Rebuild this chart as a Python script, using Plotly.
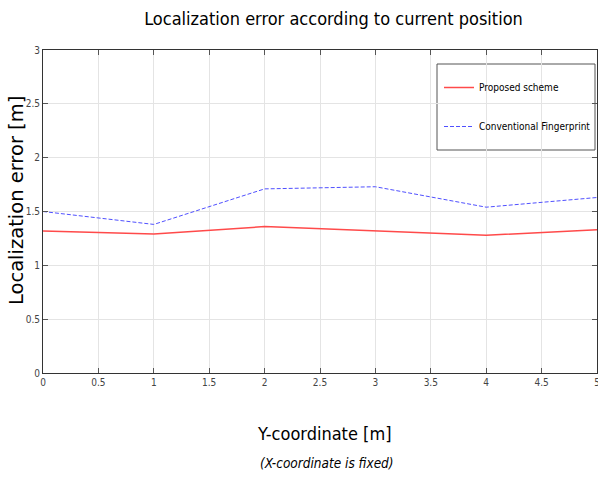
import plotly.graph_objects as go

x_vals = [0, 1, 2, 3, 4, 5]
proposed = [1.32, 1.29, 1.36, 1.32, 1.28, 1.33]
conventional = [1.50, 1.38, 1.71, 1.73, 1.54, 1.63]
x_ticks = [0, 0.5, 1, 1.5, 2, 2.5, 3, 3.5, 4, 4.5, 5]
x_tick_labels = ["0", "0.5", "1", "1.5", "2", "2.5", "3", "3.5", "4", "4.5", "5"]
y_ticks = [0, 0.5, 1, 1.5, 2, 2.5, 3]
y_tick_labels = ["0", "0.5", "1", "1.5", "2", "2.5", "3"]

NARROW = "DejaVu Sans Condensed, Liberation Sans Narrow, sans-serif"

W, H = 598, 479
L, R, T, B = 43, 1, 50, 106
PW, PH = W - L - R, H - T - B


def px_x(p):
    return (p - L) / PW


def px_y(p):
    return (H - B - p) / PH


fig = go.Figure()
fig.add_trace(go.Scatter(x=x_vals, y=proposed, mode="lines", name="Proposed scheme",
                         legendgroup="a",
                         line=dict(color="#ff4a4a", width=1.5)))
fig.add_trace(go.Scatter(x=x_vals, y=conventional, mode="lines", name="Conventional Fingerprint",
                         legendgroup="b",
                         line=dict(color="#5050ff", width=1, dash="4px,2px")))

axis_common = dict(showgrid=True, gridcolor="#e4e4e4", gridwidth=1, showline=True,
                   linecolor="#333333", linewidth=1, mirror="ticks", ticks="inside",
                   ticklen=5, tickcolor="#555555", zeroline=False, automargin=False,
                   ticklabeloverflow="allow",
                   tickfont=dict(family=NARROW, size=10, color="#444444"))

fig.update_xaxes(range=[0, 5], tickvals=x_ticks, ticktext=x_tick_labels, **axis_common)
fig.update_yaxes(range=[0, 3], tickvals=y_ticks, ticktext=y_tick_labels, **axis_common)

fig.update_layout(
    width=W, height=H,
    margin=dict(l=L, r=R, t=T, b=B),
    plot_bgcolor="white", paper_bgcolor="white",
    title=dict(text="Localization error according to current position",
               font=dict(family=NARROW, size=18, color="#000"),
               x=(147 + 520) / 2 / W, xanchor="center", y=1 - 19 / H, yanchor="middle"),
    legend=dict(x=px_x(439), xanchor="left", y=px_y(73), yanchor="top",
                borderwidth=0, bgcolor="rgba(0,0,0,0)",
                font=dict(family=NARROW, size=10, color="#000"),
                traceorder="grouped", tracegroupgap=20, itemwidth=30),
    shapes=[dict(type="rect", xref="paper", yref="paper",
                 x0=px_x(437), x1=px_x(595), y0=px_y(150), y1=px_y(64),
                 line=dict(color="#555555", width=1), fillcolor="white", layer="below")],
    annotations=[
        dict(text="Y-coordinate [m]", x=px_x(324), xref="paper", y=px_y(433), yref="paper",
             xanchor="center", yanchor="middle",
             showarrow=False, font=dict(family=NARROW, size=18, color="#000")),
        dict(text="<i>(X-coordinate is fixed)</i>", x=px_x(327), xref="paper", y=px_y(463), yref="paper",
             xanchor="center", yanchor="middle",
             showarrow=False, font=dict(family=NARROW, size=13.5, color="#000")),
        dict(text="Localization error [m]", x=px_x(16), xref="paper", y=px_y(201), yref="paper",
             xanchor="center", yanchor="middle", textangle=-90,
             showarrow=False, font=dict(family="DejaVu Sans", size=19.5, color="#000")),
    ],
    showlegend=True,
)

fig.write_html("out.html", config={"displayModeBar": False},
               post_script="document.body.style.margin='0';document.body.style.overflow='hidden';")
